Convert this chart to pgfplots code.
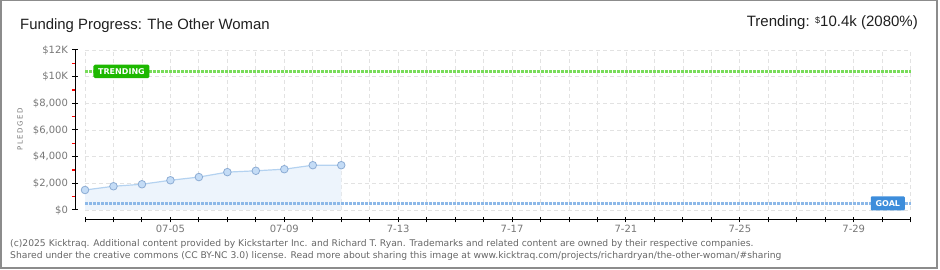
\documentclass[border=0pt]{standalone}
\usepackage{pgfplots}
\pgfplotsset{compat=1.18}
\usepackage{fontspec}
\setmainfont{Liberation Sans}
\newfontfamily\dejavu{DejaVu Sans}
\definecolor{areafill}{HTML}{EDF4FC}
\definecolor{lineblue}{HTML}{B4D2F0}
\definecolor{mkfill}{HTML}{C4DCF6}
\definecolor{mkdraw}{HTML}{8CACD4}
\definecolor{goalline}{HTML}{8CB8E8}
\definecolor{trendline}{HTML}{78DC5A}
\definecolor{trendbox}{HTML}{1DB800}
\definecolor{goalbox}{HTML}{3D8DDB}
\definecolor{ticklab}{HTML}{777777}
\definecolor{gridc}{HTML}{E2E2E2}
\definecolor{foot}{HTML}{666666}
\definecolor{frame}{HTML}{8C8C8C}
\begin{document}
\begin{tikzpicture}[x=1pt,y=1pt]
\useasboundingbox (0,0) rectangle (940,270);
\draw[frame, line width=1.5pt] (0.75,1.75) rectangle (937,269.25);
\node[anchor=base west, inner sep=0, text=black!88, font=\fontsize{14.9}{17}\selectfont] at (20,240) {Funding Progress: The Other Woman};
\node[anchor=base east, inner sep=0, text=black!88, font=\fontsize{15}{17}\selectfont] at (918,243) {Trending: \raisebox{3pt}{\fontsize{9}{10}\selectfont\$}10.4k (2080\%)};
\node[rotate=90, inner sep=0, text=ticklab, font=\dejavu\fontsize{7}{8}\selectfont\addfontfeature{LetterSpace=22}] at (20,141) {PLEDGED};
\node[anchor=base west, inner sep=0, text=foot, font=\dejavu\fontsize{9.2}{10}\selectfont] at (10,23.5) {(c)2025 Kicktraq. Additional content provided by Kickstarter Inc. and Richard T. Ryan. Trademarks and related content are owned by their respective companies.};
\node[anchor=base west, inner sep=0, text=foot, font=\dejavu\fontsize{9.2}{10}\selectfont] at (10,11.5) {Shared under the creative commons (CC BY-NC 3.0) license. Read more about sharing this image at www.kicktraq.com/projects/richardryan/the-other-woman/\#sharing};
\begin{axis}[
  at={(85pt,60pt)}, anchor=south west,
  scale only axis, width=825.7pt, height=160pt,
  xmin=0, xmax=29, ymin=0, ymax=12000,
  axis x line*=bottom, axis y line*=left,
  axis x line shift=10pt, axis y line shift=10pt,
  axis line style={black, line width=1pt},
  xtick={0,...,29},
  xticklabels={,,,07-05,,,,07-09,,,,7-13,,,,7-17,,,,7-21,,,,7-25,,,,7-29,,},
  ytick={0,2000,4000,6000,8000,10000,12000},
  yticklabels={\$0,\$2{,}000,\$4{,}000,\$6{,}000,\$8{,}000,\$10K,\$12K},
  scaled y ticks=false,
  tick align=center,
  major tick length=5pt,
  tick style={black, line width=1pt},
  extra y ticks={1000,3000,5000,7000,9000,11000},
  extra y tick labels={},
  extra y tick style={grid=none, major tick length=3pt, tick align=outside, tick style={red, line width=1.5pt}},
  /pgf/number format/assume math mode=true,
  tick label style={text=ticklab, font=\dejavu\fontsize{10}{11}\selectfont},
  xticklabel style={yshift=1pt},
  yticklabel style={xshift=-1pt},
  grid=major,
  major grid style={gridc, line width=0.8pt, dash pattern=on 4pt off 3pt},
  clip=false,
]
\addplot[fill=areafill, draw=none, no marks] coordinates {
(0,1500) (1,1780) (2,1930) (3,2230) (4,2470) (5,2840) (6,2940) (7,3060) (8,3360) (9,3360)
} \closedcycle;
\addplot[goalline, line width=2.5pt, dash pattern=on 3pt off 1pt, no marks] coordinates {(0,500) (29,500)};
\addplot[trendline, line width=2.5pt, dash pattern=on 3pt off 1pt, no marks] coordinates {(0,10400) (29,10400)};
\addplot[lineblue, line width=1.2pt, mark=*, mark size=3.8pt, mark options={fill=mkfill, draw=mkdraw, line width=0.8pt}] coordinates {
(0,1500) (1,1780) (2,1930) (3,2230) (4,2470) (5,2840) (6,2940) (7,3060) (8,3360) (9,3360)
};
\node[fill=trendbox, text=white, anchor=west, rounded corners=1.5pt, inner xsep=4pt, inner ysep=0pt, minimum height=13.5pt, minimum width=56pt, font=\dejavu\bfseries\fontsize{8}{9}\selectfont] at (axis cs:0.29,10400) {TRENDING};
\node[fill=goalbox, text=white, anchor=east, rounded corners=1pt, inner xsep=3pt, inner ysep=0pt, minimum height=14pt, minimum width=34pt, font=\dejavu\bfseries\fontsize{8}{9}\selectfont] at (axis cs:28.8,500) {GOAL};
\end{axis}
\end{tikzpicture}
\end{document}
